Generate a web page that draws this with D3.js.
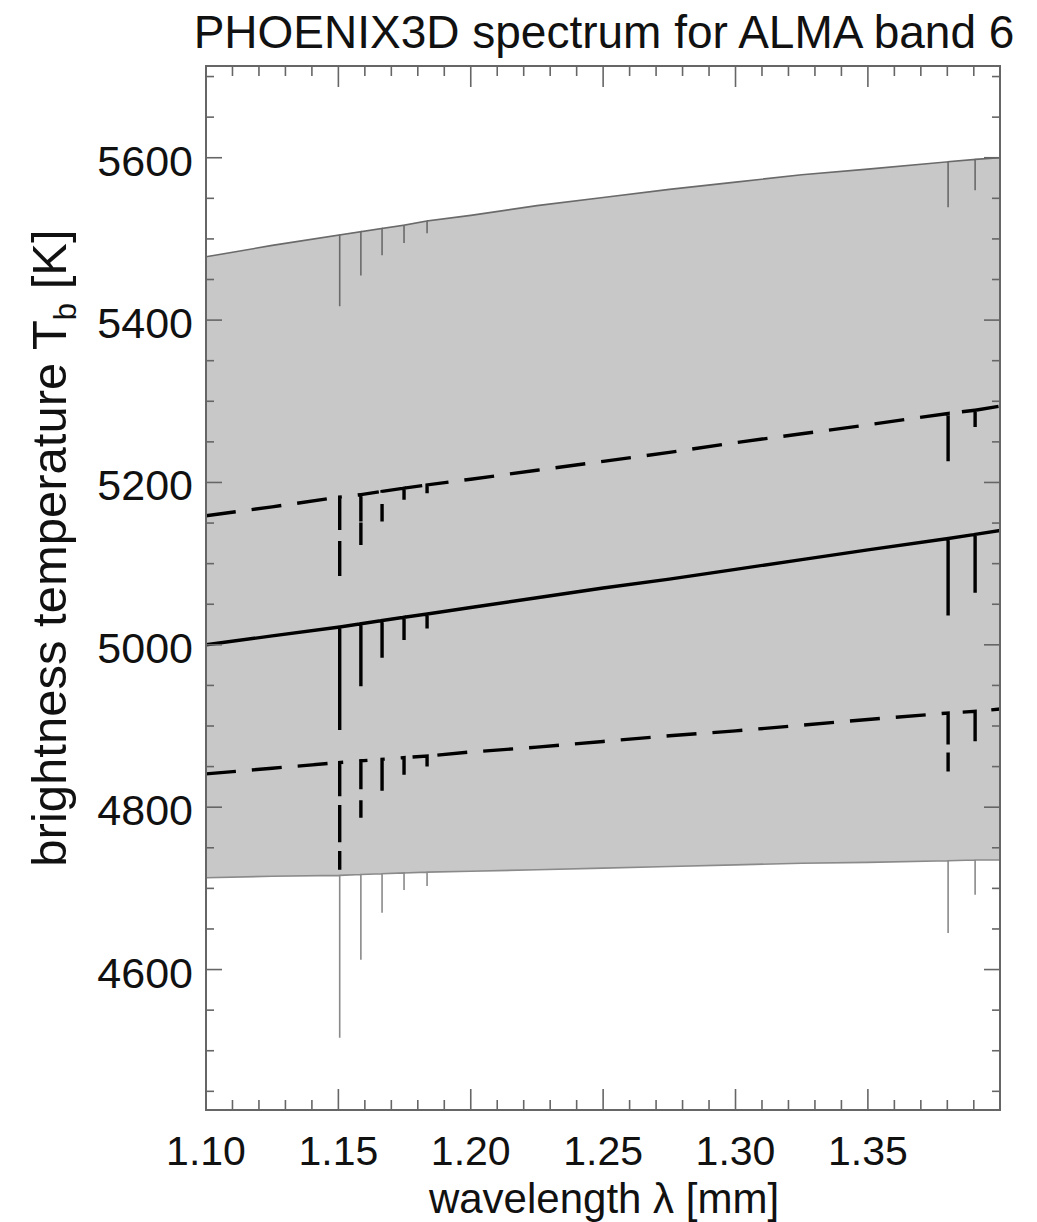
<!DOCTYPE html>
<html>
<head>
<meta charset="utf-8">
<script src="https://cdn.jsdelivr.net/npm/d3@7"></script>
<style>
  body { margin: 0; background: #fff; }
  text { font-family: "Liberation Sans", Arial, Helvetica, sans-serif; fill: #111; }
</style>
</head>
<body>
<script>
// wavelength nodes [mm]; absorption lines sit on the nodes that have a dip value
const wavelengths = [1.10, 1.125, 1.1505, 1.1585, 1.1665, 1.1748, 1.1835, 1.20, 1.225, 1.25, 1.275, 1.30, 1.325, 1.35, 1.3803, 1.3905, 1.40];

// brightness temperature [K]: continuum and line bottoms
const tMax      = [5478, 5492, 5505, 5509, 5513, 5517, 5522, 5529, 5541, 5551, 5561, 5570, 5579, 5586, 5595, 5598, 5600];
const tMaxDip   = [null, null, 5417, 5455, 5480, 5495, 5507, null, null, null, null, null, null, null, 5539, 5560, null];
const tUpper    = [5159, 5170, 5182, 5185, 5189, 5193, 5197, 5204, 5215, 5226, 5237, 5249, 5260, 5271, 5285, 5289, 5294];
const tUpperDip = [null, null, 5078, 5123, 5152, 5172, 5185, null, null, null, null, null, null, null, 5226, 5265, null];
const tMean     = [5000, 5011, 5022, 5026, 5030, 5034, 5038, 5046, 5058, 5070, 5081, 5093, 5105, 5117, 5131, 5136, 5141];
const tMeanDip  = [null, null, 4895, 4949, 4984, 5006, 5020, null, null, null, null, null, null, null, 5036, 5064, null];
const tLower    = [4841, 4848, 4855, 4857, 4859, 4861, 4863, 4868, 4874, 4881, 4888, 4894, 4901, 4908, 4916, 4918, 4921];
const tLowerDip = [null, null, 4723, 4787, 4813, 4840, 4850, null, null, null, null, null, null, null, 4844, 4879, null];
const tMin      = [4713, 4715, 4716, 4717, 4718, 4719, 4720, 4721, 4723, 4725, 4727, 4729, 4731, 4732, 4734, 4735, 4735];
const tMinDip   = [null, null, 4516, 4612, 4670, 4698, 4703, null, null, null, null, null, null, null, 4645, 4692, null];

const xTickLabels = [1.10, 1.15, 1.20, 1.25, 1.30, 1.35];
const yTickLabels = [4600, 4800, 5000, 5200, 5400, 5600];

const width = 1037, height = 1222;
const plotL = 206, plotR = 1000, plotT = 66, plotB = 1110;

const svg = d3.select("body").append("svg")
  .attr("width", width)
  .attr("height", height);

const x = d3.scaleLinear().domain([1.10, 1.3999]).range([plotL, plotR]);
const y = d3.scaleLinear().domain([4427, 5713]).range([plotB, plotT]);

// expand a curve into points: continuum, then down to the line bottom and back up
function spectrum(cont, dip) {
  const pts = [];
  wavelengths.forEach((w, i) => {
    pts.push([w, cont[i]]);
    if (dip[i] != null) {
      pts.push([w, dip[i]]);
      pts.push([w, cont[i]]);
    }
  });
  return pts;
}

const maxPts = spectrum(tMax, tMaxDip);
const minPts = spectrum(tMin, tMinDip);
const band = maxPts.map((p, i) => ({ w: p[0], hi: p[1], lo: minPts[i][1] }));

svg.append("clipPath").attr("id", "plot")
  .append("rect").attr("x", plotL).attr("y", plotT)
  .attr("width", plotR - plotL).attr("height", plotB - plotT);

const g = svg.append("g").attr("clip-path", "url(#plot)");

// grey band between min and max spectra
g.append("path")
  .datum(band)
  .attr("fill", "#c8c8c8")
  .attr("d", d3.area().x(d => x(d.w)).y0(d => y(d.lo)).y1(d => y(d.hi)));

const line = d3.line().x(d => x(d[0])).y(d => y(d[1]));

g.append("path").datum(maxPts)
  .attr("fill", "none").attr("stroke", "#6a6a6a").attr("stroke-width", 1.6)
  .attr("d", line);
g.append("path").datum(minPts)
  .attr("fill", "none").attr("stroke", "#8a8a8a").attr("stroke-width", 1.6)
  .attr("d", line);

g.append("path").datum(spectrum(tUpper, tUpperDip))
  .attr("fill", "none").attr("stroke", "#000").attr("stroke-width", 3.4)
  .attr("stroke-dasharray", "30,16")
  .attr("d", line);
g.append("path").datum(spectrum(tMean, tMeanDip))
  .attr("fill", "none").attr("stroke", "#000").attr("stroke-width", 3.4)
  .attr("d", line);
g.append("path").datum(spectrum(tLower, tLowerDip))
  .attr("fill", "none").attr("stroke", "#000").attr("stroke-width", 3.4)
  .attr("stroke-dasharray", "30,16")
  .attr("d", line);

// frame and ticks, on all four sides
const axisColor = "#666";
svg.append("rect")
  .attr("x", plotL).attr("y", plotT)
  .attr("width", plotR - plotL).attr("height", plotB - plotT)
  .attr("fill", "none").attr("stroke", axisColor).attr("stroke-width", 2);

const xMinor = d3.range(110, 140).map(v => v / 100);
const xMajor = new Set(xTickLabels.map(v => Math.round(v * 100)));
const yMinor = d3.range(4450, 5713, 50);

const ticks = svg.append("g").attr("stroke", axisColor).attr("stroke-width", 1.6);
xMinor.forEach(v => {
  const len = xMajor.has(Math.round(v * 100)) ? 21 : 10;
  ticks.append("line").attr("x1", x(v)).attr("x2", x(v)).attr("y1", plotB).attr("y2", plotB - len);
  ticks.append("line").attr("x1", x(v)).attr("x2", x(v)).attr("y1", plotT).attr("y2", plotT + len);
});
yMinor.forEach(v => {
  const len = v % 200 === 0 ? 16 : 8;
  ticks.append("line").attr("x1", plotL).attr("x2", plotL + len).attr("y1", y(v)).attr("y2", y(v));
  ticks.append("line").attr("x1", plotR).attr("x2", plotR - len).attr("y1", y(v)).attr("y2", y(v));
});

svg.selectAll(".xlab").data(xTickLabels).enter().append("text")
  .attr("x", d => x(d)).attr("y", 1165)
  .attr("text-anchor", "middle").style("font-size", "41px")
  .text(d => d.toFixed(2));

svg.selectAll(".ylab").data(yTickLabels).enter().append("text")
  .attr("x", 193).attr("y", d => y(d) + 18)
  .attr("text-anchor", "end").style("font-size", "43px")
  .text(d => d);

svg.append("text")
  .attr("x", 604).attr("y", 1213)
  .attr("text-anchor", "middle").style("font-size", "42px")
  .text("wavelength λ [mm]");

svg.append("text")
  .attr("x", 604).attr("y", 48)
  .attr("text-anchor", "middle").style("font-size", "46px")
  .text("PHOENIX3D spectrum for ALMA band 6");

const yl = svg.append("text")
  .attr("transform", "translate(66,548) rotate(-90)")
  .attr("text-anchor", "middle").style("font-size", "49px");
yl.append("tspan").text("brightness temperature T");
yl.append("tspan").attr("dy", 10).style("font-size", "31px").text("b");
yl.append("tspan").attr("dy", -10).text(" [K]");
</script>
</body>
</html>
